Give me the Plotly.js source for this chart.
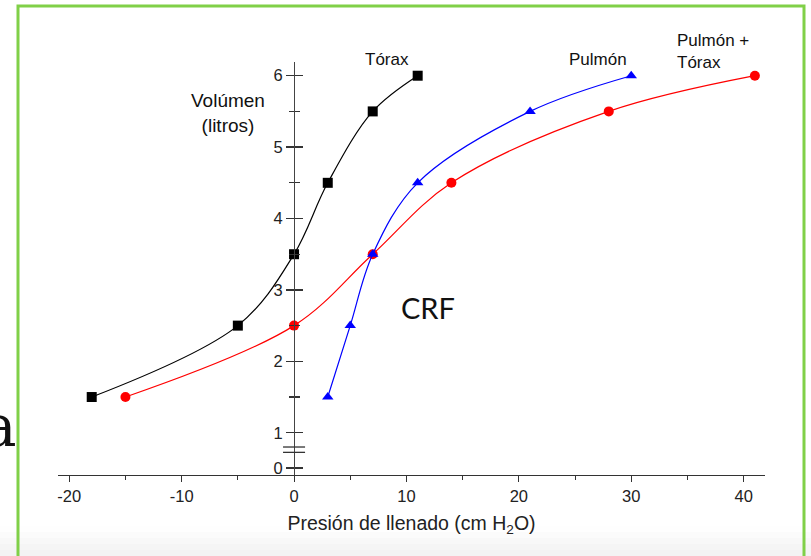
<!DOCTYPE html>
<html>
<head>
<meta charset="utf-8">
<script src="https://cdn.plot.ly/plotly-3.0.1.min.js"></script>
<style>html,body{margin:0;padding:0;background:#fff;}#chart{width:811px;height:556px;}</style>
</head>
<body>
<div id="chart"></div>
<script>
// Data (pressure in cm H2O, volume in litres)
const toraxX = [-18, -5, 0, 3, 7, 11];
const toraxY = [1.5, 2.5, 3.5, 4.5, 5.5, 6];
const pulmonX = [3, 5, 7, 11, 21, 30];
const pulmonY = [1.5, 2.5, 3.5, 4.5, 5.5, 6];
const totalX = [-15, 0, 7, 14, 28, 41];
const totalY = [1.5, 2.5, 3.5, 4.5, 5.5, 6];
const xTickVals = [-20, -10, 0, 10, 20, 30, 40];
const xTickText = ['-20', '-10', '0', '10', '20', '30', '40'];
const yTickVals = [0.506, 1, 2, 3, 4, 5, 6];
const yTickText = ['0', '1', '2', '3', '4', '5', '6'];
const yMinorVals = [1.5, 2.5, 3.5, 4.5, 5.5];

const F = 'Liberation Sans, Arial, sans-serif';
const lineW = 1.2;

const traces = [
  {x: toraxX, y: toraxY, mode: 'lines+markers', line: {color: '#000', width: lineW, shape: 'spline'},
   marker: {symbol: 'square', size: 10, color: '#000'}, hoverinfo: 'skip'},
  {x: totalX, y: totalY, mode: 'lines+markers', line: {color: '#ff0000', width: lineW, shape: 'spline'},
   marker: {symbol: 'circle', size: 10, color: '#ff0000'}, hoverinfo: 'skip'},
  {x: pulmonX, y: pulmonY, mode: 'lines+markers', line: {color: '#0000ff', width: lineW, shape: 'spline'},
   marker: {symbol: 'triangle-up', size: 10, color: '#0000ff'}, hoverinfo: 'skip'},
  // invisible trace to activate the second y axis (ticks on the right side of the axis line)
  {x: [0], y: [3], yaxis: 'y2', mode: 'markers', marker: {opacity: 0}, hoverinfo: 'skip'}
];

const yRange = [0.408, 6.192];
const xRange = [-21, 41.9];
const yPos = (0 - xRange[0]) / (xRange[1] - xRange[0]);

function py(p) { return (475 - p) / 413; }

const gray = ['#fefefe', '#fbfbfb', '#f8f8f8', '#f5f5f5', '#f3f3f3'];
const bands = [[526, 532], [532, 538], [538, 544], [544, 550], [550, 557]];
const shapes = bands.map((b, i) => ({type: 'rect', xref: 'paper', yref: 'paper', layer: 'below',
  x0: -0.1, x1: 1.1, y0: py(b[1]), y1: py(b[0]), fillcolor: gray[i], line: {width: 0}}));

shapes.push(
  // break marks on the y axis
  {type: 'line', xref: 'x', yref: 'y', x0: -0.98, x1: 0.98, y0: 0.80, y1: 0.80, line: {color: '#333', width: 1.3}},
  {type: 'line', xref: 'x', yref: 'y', x0: -0.98, x1: 0.98, y0: 0.725, y1: 0.725, line: {color: '#333', width: 1.3}},
  // slide green frame
  {type: 'path', xref: 'paper', yref: 'paper',
   path: `M ${(18 - 58) / 707} ${py(560)} L ${(18 - 58) / 707} ${py(6)} L ${(804 - 58) / 707} ${py(6)} L ${(804 - 58) / 707} ${py(560)}`,
   line: {color: '#80d048', width: 3}}
);

const layout = {
  width: 811, height: 556,
  margin: {l: 58, r: 46, t: 62, b: 81},
  paper_bgcolor: '#fff', plot_bgcolor: 'rgba(0,0,0,0)',
  showlegend: false,
  font: {family: F, color: '#222', size: 14},
  xaxis: {
    range: xRange, showgrid: false, zeroline: false, showline: true, linecolor: '#333', linewidth: 1.3,
    ticks: 'outside', ticklen: 6, tickwidth: 1, tickcolor: '#333',
    tickmode: 'array', tickvals: xTickVals, ticktext: xTickText, tickfont: {family: F, size: 16.5, color: '#222'},
    minor: {dtick: 5, tick0: 0, ticks: 'outside', ticklen: 4, tickcolor: '#333', showgrid: false},
    title: {text: 'Presión de llenado (cm H<sub>2</sub>O)', font: {family: F, size: 19.5, color: '#222'}, standoff: 12},
    fixedrange: true
  },
  yaxis: {
    range: yRange, anchor: 'free', position: yPos, side: 'left',
    showgrid: false, zeroline: false, showline: true, linecolor: '#444', linewidth: 1.3,
    ticks: 'outside', ticklen: 8, tickwidth: 1.3, tickcolor: '#333',
    tickmode: 'array', tickvals: yTickVals, ticktext: yTickText, tickfont: {family: F, size: 16.5, color: '#222'},
    minor: {tickmode: 'array', tickvals: yMinorVals, ticks: 'outside', ticklen: 5, tickcolor: '#333', tickwidth: 1.3, showgrid: false},
    fixedrange: true
  },
  yaxis2: {
    range: yRange, overlaying: 'y', anchor: 'free', position: yPos, side: 'right',
    showgrid: false, zeroline: false, showline: false, showticklabels: false,
    ticks: 'outside', ticklen: 8, tickwidth: 1.3, tickcolor: '#333',
    tickmode: 'array', tickvals: yTickVals,
    minor: {tickmode: 'array', tickvals: yMinorVals, ticks: 'outside', ticklen: 5, tickcolor: '#333', tickwidth: 1.3, showgrid: false},
    fixedrange: true
  },
  shapes: shapes,
  annotations: [
    {x: 8.27, y: py(60), xref: 'x', yref: 'paper', yanchor: 'middle', text: 'Tórax', showarrow: false, font: {family: F, size: 17, color: '#111'}},
    {x: 27.0, y: py(60), xref: 'x', yref: 'paper', yanchor: 'middle', text: 'Pulmón', showarrow: false, font: {family: F, size: 17, color: '#111'}},
    {x: 33.9, y: py(52), xref: 'x', yref: 'paper', yanchor: 'middle', text: 'Pulmón +<br>Tórax', showarrow: false, xanchor: 'left', align: 'left',
     font: {family: F, size: 17, color: '#111'}},
    {x: -5.87, y: 5.48, xref: 'x', yref: 'y', text: 'Volúmen<br>(litros)', showarrow: false, align: 'center',
     font: {family: F, size: 19, color: '#111'}},
    {x: 11.9, y: 2.76, xref: 'x', yref: 'y', text: 'CRF', showarrow: false, font: {family: 'Lato, Open Sans, sans-serif', size: 29, color: '#111'}},
    {x: (19 - 58) / 707, y: py(426), xref: 'paper', yref: 'paper', text: 'a', showarrow: false, xanchor: 'right', yanchor: 'middle',
     font: {family: 'DejaVu Serif, serif', size: 58, color: '#111'}}
  ]
};

Plotly.newPlot('chart', traces, layout, {staticPlot: true, displayModeBar: false});
</script>
</body>
</html>
